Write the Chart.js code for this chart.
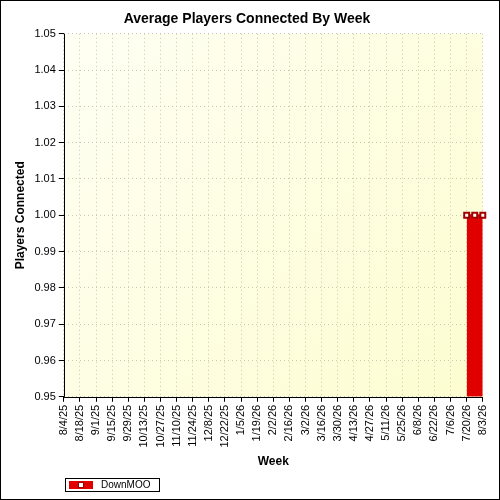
<!DOCTYPE html><html><head><script src="https://cdn.jsdelivr.net/npm/chart.js@4"></script>
<style>body{margin:0;background:#fff}#w{width:498px;height:498px;border:1px solid #000;position:relative}</style></head><body>
<div id="w"><canvas id="c" width="498" height="498"></canvas></div>
<script>
const weeks=["8/4/25","8/11/25","8/18/25","8/25/25","9/1/25","9/8/25","9/15/25","9/22/25","9/29/25","10/6/25","10/13/25","10/20/25","10/27/25","11/3/25","11/10/25","11/17/25","11/24/25","12/1/25","12/8/25","12/15/25","12/22/25","12/29/25","1/5/26","1/12/26","1/19/26","1/26/26","2/2/26","2/9/26","2/16/26","2/23/26","3/2/26","3/9/26","3/16/26","3/23/26","3/30/26","4/6/26","4/13/26","4/20/26","4/27/26","5/4/26","5/11/26","5/18/26","5/25/26","6/1/26","6/8/26","6/15/26","6/22/26","6/29/26","7/6/26","7/13/26","7/20/26","7/27/26","8/3/26"];
const downMOO=weeks.map(()=>null);
downMOO[50]=1;downMOO[51]=1;downMOO[52]=1;
const yTicks=[0.95,0.96,0.97,0.98,0.99,1.00,1.01,1.02,1.03,1.04,1.05];
const bgPlugin={id:'bg',beforeDraw(ch){const a=ch.chartArea,x=ch.ctx;const g=x.createLinearGradient(a.left,a.top,a.right,a.bottom);g.addColorStop(0,'#fffff4');g.addColorStop(1,'#fdfdd0');x.fillStyle=g;x.fillRect(a.left,a.top,a.right-a.left,a.bottom-a.top);},
afterDraw(ch){const a=ch.chartArea,x=ch.ctx;x.save();x.strokeStyle='#000';x.lineWidth=1;
x.beginPath();x.moveTo(Math.round(a.left)+0.5,a.top);x.lineTo(Math.round(a.left)+0.5,a.bottom);x.moveTo(a.left,Math.round(a.bottom)+0.5);x.lineTo(a.right,Math.round(a.bottom)+0.5);x.stroke();
x.strokeRect(64.5,477.5,94,13);
x.fillStyle='#e00000';x.fillRect(68,480,24,8);x.fillStyle='#fff';x.strokeStyle='#a00000';x.fillRect(77,481,6,6);x.strokeRect(77.5,481.5,5,5);
x.fillStyle='#000';x.font='10px Arial';x.textBaseline='middle';x.fillText('DownMOO',100,484.5);x.restore();}};
new Chart(document.getElementById('c'),{type:'line',
data:{labels:weeks,datasets:[{label:'DownMOO',data:downMOO,borderColor:'#e00000',backgroundColor:'#e00000',fill:'origin',pointRadius:3.5,pointStyle:'rect',pointBackgroundColor:'#fff',pointBorderColor:'#a00000',borderWidth:2,tension:0}]},
plugins:[bgPlugin],
options:{animation:false,responsive:false,layout:{padding:{left:8,right:14,top:0,bottom:30}},
plugins:{title:{display:true,text:'Average Players Connected By Week',color:'#000',font:{family:'Arial',size:14,weight:'bold'},padding:{top:10,bottom:6}},
legend:{display:false},tooltip:{enabled:false}},
scales:{x:{offset:false,title:{display:true,text:'Week',color:'#000',font:{family:'Arial',size:12,weight:'bold'},padding:{top:4,bottom:0}},
ticks:{autoSkip:false,maxRotation:90,minRotation:90,color:'#000',font:{family:'Arial',size:11},callback:(v,i)=>i%2===0?weeks[i]:''},
grid:{color:'#c8c8b0',tickColor:'#000',tickLength:5,drawOnChartArea:true,lineWidth:(c)=>c.index%2===0?1:0},border:{display:false,dash:[1,3]}},
y:{min:0.95,max:1.05,afterBuildTicks:s=>{s.ticks=yTicks.map(v=>({value:v}));},title:{display:true,text:'Players Connected',color:'#000',font:{family:'Arial',size:12,weight:'bold'}},
ticks:{color:'#000',font:{family:'Arial',size:11},callback:v=>v.toFixed(2)},grid:{color:'#c8c8b0',tickColor:'#000',tickLength:5},border:{display:false,dash:[1,3]}}}}});
</script></body></html>
